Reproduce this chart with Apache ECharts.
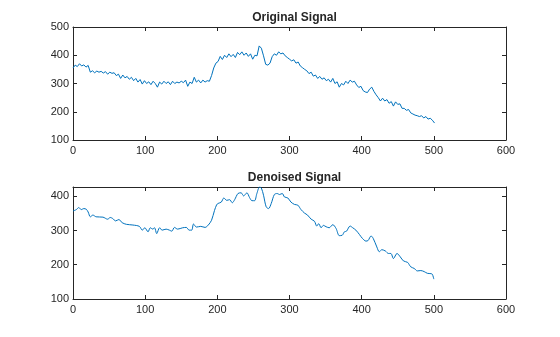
<!DOCTYPE html>
<html>
<head>
<meta charset="utf-8">
<script src="https://cdn.jsdelivr.net/npm/echarts@6/dist/echarts.min.js"></script>
<style>html,body{margin:0;padding:0;background:#fff;}#c{width:560px;height:337px;}</style>
</head>
<body>
<div id="c"></div>
<script>
// Tick labels
var xTicks = [0, 100, 200, 300, 400, 500, 600];
var yTicksTop = [100, 200, 300, 400, 500];
var yTicksBottom = [100, 200, 300, 400];
var titles = ['Original Signal', 'Denoised Signal'];

// Original (noisy) signal: sample index, value
var originalX = [0,3,6,9,12,15,18,21,24,27,30,33,36,39,42,45,48,51,54,57,60,63,66,69,72,75,78,81,84,87,90,93,96,99,102,105,108,111,114,117,120,123,126,129,132,135,138,141,144,147,150,153,156,159,162,165,168,171,174,177,180,183,186,189,192,195,198,201,204,207,210,213,216,219,222,225,228,231,234,237,240,243,246,249,252,255,258,261,264,267,270,273,276,279,282,285,288,291,294,297,300,303,306,309,312,315,318,321,324,327,330,333,336,339,342,345,348,351,354,357,360,363,366,369,372,375,378,381,384,387,390,393,396,399,402,405,408,411,414,417,420,423,426,429,432,435,438,441,444,447,450,453,456,459,462,465,468,471,474,477,480,483,486,489,492,495,498,501];
var originalY = [355,365,360,370,362,366,358,364,340,345,338,344,340,343,337,342,333,340,336,338,328,333,318,330,320,325,315,322,310,318,305,314,298,310,300,306,296,308,300,287,305,298,308,300,306,296,308,300,305,302,308,303,312,290,305,300,322,305,312,302,312,305,310,308,328,355,372,378,396,385,400,392,405,395,403,392,410,402,412,400,408,396,405,386,400,398,433,425,398,368,365,372,395,405,400,412,405,408,398,392,386,380,384,372,376,362,356,350,345,335,340,326,330,318,325,315,320,310,315,305,318,300,306,287,300,295,308,300,312,305,308,295,286,290,275,270,268,280,287,272,260,250,238,248,238,243,230,236,220,235,226,228,212,212,205,208,196,192,188,186,183,186,178,183,174,177,170,160];

// Denoised signal: sample index, value
var denoisedX = [0,4.6,8,11.5,15,18.4,21,24,27.6,32,41.5,48,51.6,55,59,63.6,68,74,83,92,96,99.5,104,107,110.6,113,116,120,123.5,129,133.6,137,140.5,145,152,157,161,164.5,167,171,177,183,187.5,192,196,199,201,205.5,209,213,217,220.7,224,228.6,233,236.4,241,244.7,248,251.6,254.8,258.5,261,264,267.7,271,274.7,279,283,286,290,293,297.7,302,307,311.5,316,320.7,325,330,334.6,337.8,340.5,343.8,347,350.7,355,360,364.5,369,373,376,379,384,387.6,392,397,401,406,409,413,416,421,424.4,428,433,437,440.5,444,449,453.5,458,463.6,468,473,477,482,486.6,491,496,498,500];
var denoisedY = [357,361,367,361,364,362,354,340,345,340,339,333,338,335,328,332,323,318,316,312,301,308,296,308,304,308,291,308,301,304,301,298,309,304,308,309,301,301,319,310,312,309,316,330,358,375,379,383,395,388,390,381,390,408,410,401,410,396,387,387,408,427,424,403,369,364,379,405,408,405,408,398,395,383,376,374,361,351,345,333,327,313,320,308,315,311,308,317,306,285,286,296,298,313,308,301,288,277,269,271,284,277,252,238,244,240,233,233,218,233,223,211,207,194,189,182,183,180,175,174,172,158];

function pairs(xs, ys) { return xs.map(function (x, i) { return [x, ys[i]]; }); }

var ink = '#262626';
var font = 'Liberation Sans, Arial, Helvetica, sans-serif';

function xAx(grid, bottom) {
  return {
    gridIndex: grid, type: 'value', position: bottom ? 'bottom' : 'top',
    min: xTicks[0], max: xTicks[xTicks.length - 1], interval: 100,
    axisLine: { show: true, onZero: false, lineStyle: { color: ink, width: 1 } },
    axisTick: { show: true, inside: true, length: 4, lineStyle: { color: ink } },
    axisLabel: { show: bottom, color: ink, fontSize: 11, fontFamily: font, margin: 5 },
    splitLine: { show: false }
  };
}
function yAx(grid, left, ticks, max) {
  return {
    gridIndex: grid, type: 'value', position: left ? 'left' : 'right',
    min: ticks[0], max: max, interval: 100,
    axisLine: { show: true, onZero: false, lineStyle: { color: ink, width: 1 } },
    axisTick: { show: true, inside: true, length: 4, lineStyle: { color: ink } },
    axisLabel: { show: left, color: ink, fontSize: 11, fontFamily: font, margin: 4,
                 showMaxLabel: max === ticks[ticks.length - 1] },
    splitLine: { show: false }
  };
}

var chart = echarts.init(document.getElementById('c'), null, { renderer: 'canvas' });
chart.setOption({
  animation: false,
  backgroundColor: '#ffffff',
  title: [
    { text: titles[0], left: 289.5, top: 7, textAlign: 'center',
      textStyle: { fontSize: 12, fontWeight: 'bold', color: ink, fontFamily: font } },
    { text: titles[1], left: 289.5, top: 167, textAlign: 'center',
      textStyle: { fontSize: 12, fontWeight: 'bold', color: ink, fontFamily: font } }
  ],
  grid: [
    { left: 73, right: 54, top: 27, height: 113, containLabel: false },
    { left: 73, right: 54, top: 187, height: 112, containLabel: false }
  ],
  xAxis: [xAx(0, true), xAx(0, false), xAx(1, true), xAx(1, false)],
  yAxis: [yAx(0, true, yTicksTop, 500), yAx(0, false, yTicksTop, 500),
          yAx(1, true, yTicksBottom, 427), yAx(1, false, yTicksBottom, 427)],
  series: [
    { type: 'line', xAxisIndex: 0, yAxisIndex: 0, data: pairs(originalX, originalY),
      showSymbol: false, symbol: 'none', lineStyle: { color: '#0072BD', width: 1 } },
    { type: 'line', xAxisIndex: 2, yAxisIndex: 2, data: pairs(denoisedX, denoisedY),
      showSymbol: false, symbol: 'none', smooth: 0.3, lineStyle: { color: '#0072BD', width: 1 } }
  ]
});
</script>
</body>
</html>
